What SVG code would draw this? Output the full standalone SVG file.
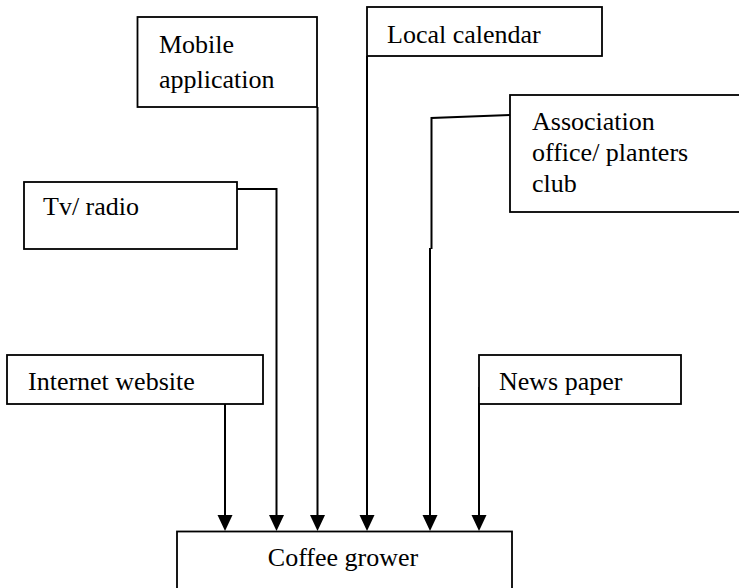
<svg xmlns="http://www.w3.org/2000/svg" width="739" height="588" viewBox="0 0 739 588">
  <style>
    .box { fill: #fff; stroke: #000; stroke-width: 1.8; }
    .wire { fill: none; stroke: #000; stroke-width: 2; }
    .tip { fill: #000; stroke: none; }
    text { font-family: 'Liberation Serif', serif !important; font-size: 26px; fill: #000; }
  </style>
  <rect width="739" height="588" fill="#fff"/>

  <!-- connectors, each ending in a filled arrowhead on the Coffee grower box -->
  <g id="connectors">
    <!-- Internet website -->
    <line class="wire" x1="225" y1="404" x2="225" y2="516"/>
    <path class="tip" d="M217.5,515 L232.5,515 L225,531 Z"/>
    <!-- Tv/ radio -->
    <polyline class="wire" points="237,189 276.5,189 276.5,516"/>
    <path class="tip" d="M269,515 L284,515 L276.5,531 Z"/>
    <!-- Mobile application -->
    <line class="wire" x1="317.5" y1="107" x2="317.5" y2="516"/>
    <path class="tip" d="M310,515 L325,515 L317.5,531 Z"/>
    <!-- Local calendar -->
    <line class="wire" x1="367" y1="56" x2="367" y2="516"/>
    <path class="tip" d="M359.5,515 L374.5,515 L367,531 Z"/>
    <!-- Association office/ planters club -->
    <polyline class="wire" points="510,115 431.5,118 431.5,249"/>
    <line class="wire" x1="430" y1="248" x2="430" y2="516"/>
    <path class="tip" d="M422.5,515 L437.5,515 L430,531 Z"/>
    <!-- News paper -->
    <line class="wire" x1="479" y1="387" x2="479" y2="516"/>
    <path class="tip" d="M471.5,515 L486.5,515 L479,531 Z"/>
  </g>

  <g id="mobile-application">
    <rect class="box" x="137.5" y="17" width="179.5" height="90"/>
    <text x="159" y="53" style="font-family:'Liberation Serif',serif">Mobile</text>
    <text x="159" y="88" style="font-family:'Liberation Serif',serif">application</text>
  </g>

  <g id="local-calendar">
    <rect class="box" x="367" y="7" width="235" height="49"/>
    <text x="387" y="43" style="font-family:'Liberation Serif',serif">Local calendar</text>
  </g>

  <g id="association-office">
    <rect class="box" x="510" y="95" width="240" height="117"/>
    <text x="532" y="130" style="font-family:'Liberation Serif',serif">Association</text>
    <text x="532" y="161" style="font-family:'Liberation Serif',serif">office/ planters</text>
    <text x="532" y="192" style="font-family:'Liberation Serif',serif">club</text>
  </g>

  <g id="tv-radio">
    <rect class="box" x="24" y="182" width="213" height="67"/>
    <text x="43" y="215" style="font-family:'Liberation Serif',serif">Tv/ radio</text>
  </g>

  <g id="internet-website">
    <rect class="box" x="7" y="355" width="256" height="49"/>
    <text x="28" y="390" style="font-family:'Liberation Serif',serif">Internet website</text>
  </g>

  <g id="news-paper">
    <rect class="box" x="479" y="355" width="202" height="49"/>
    <text x="499" y="390" style="font-family:'Liberation Serif',serif">News paper</text>
  </g>

  <g id="coffee-grower">
    <rect class="box" x="177" y="531.5" width="335" height="70"/>
    <text x="343" y="566" text-anchor="middle" style="font-family:'Liberation Serif',serif">Coffee grower</text>
  </g>
</svg>
